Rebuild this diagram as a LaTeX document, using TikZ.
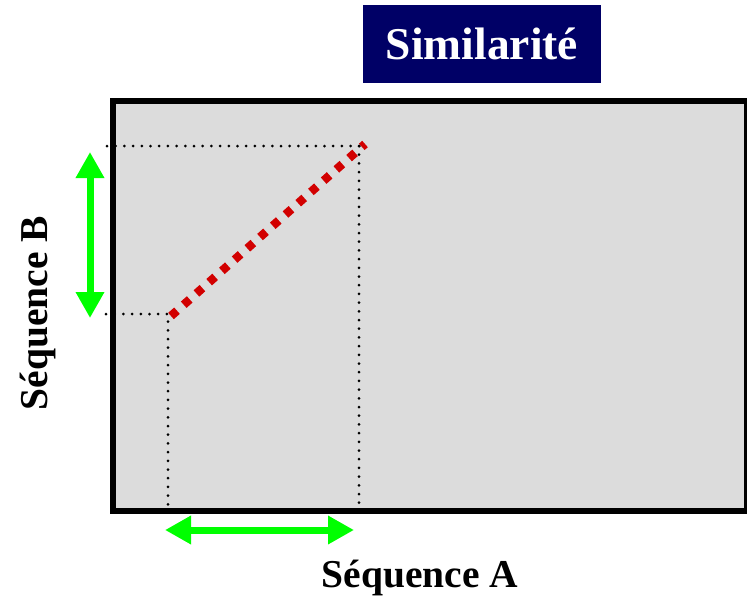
\documentclass[tikz,border=0pt]{standalone}
\usepackage{fontspec}
\setmainfont{Liberation Serif}
\usetikzlibrary{arrows.meta}
\definecolor{titlenavy}{RGB}{0,0,102}
\definecolor{plotgray}{RGB}{220,220,220}
\definecolor{matchred}{RGB}{210,0,0}
\definecolor{spangreen}{RGB}{0,255,0}

\begin{document}
\begin{tikzpicture}[x=1pt, y=-1pt,
  title/.style={fill=titlenavy, text=white, font=\bfseries\fontsize{45.5}{48}\selectfont, minimum width=238pt, minimum height=78pt, inner sep=0pt},
  axis/.style={font=\bfseries\fontsize{39.5}{44}\selectfont, inner sep=0pt},
  frame/.style={draw=black, fill=plotgray, line width=6pt},
  guide/.style={black, line width=3pt, line cap=round, dash pattern=on 0pt off 8.7pt},
  match/.style={matchred, line width=8.5pt, dash pattern=on 8pt off 9pt},
  span/.style={{Triangle[length=26pt, width=27pt]}-{Triangle[length=26pt, width=27pt]}, spangreen, line width=7pt},
]
  \useasboundingbox (0,0) rectangle (747,603);
  \node[title] (sim) at (482,44) {Similarité};
  \draw[frame] (113,101) rectangle (747,511);
  % aligned segment and its projections
  \coordinate (mstart) at (171,316);
  \coordinate (mend) at (365,144);
  \draw[guide] (106,314) -- (168,314) -- (168,505);
  \draw[guide] (107,146) -- (367,146);
  \draw[guide] (359,146) -- (359,503);
  \draw[match] (mstart) -- (mend);
  \coordinate (btop) at (90,152); \coordinate (bbot) at (90,318);
  \coordinate (aleft) at (165,530); \coordinate (aright) at (354,530);
  \draw[span] (btop) -- (bbot);
  \draw[span] (aleft) -- (aright);
  \node[axis, rotate=90] (seqb) at (38,313) {Séquence B};
  \node[axis] (seqa) at (420,578) {Séquence A};
\end{tikzpicture}
\end{document}
